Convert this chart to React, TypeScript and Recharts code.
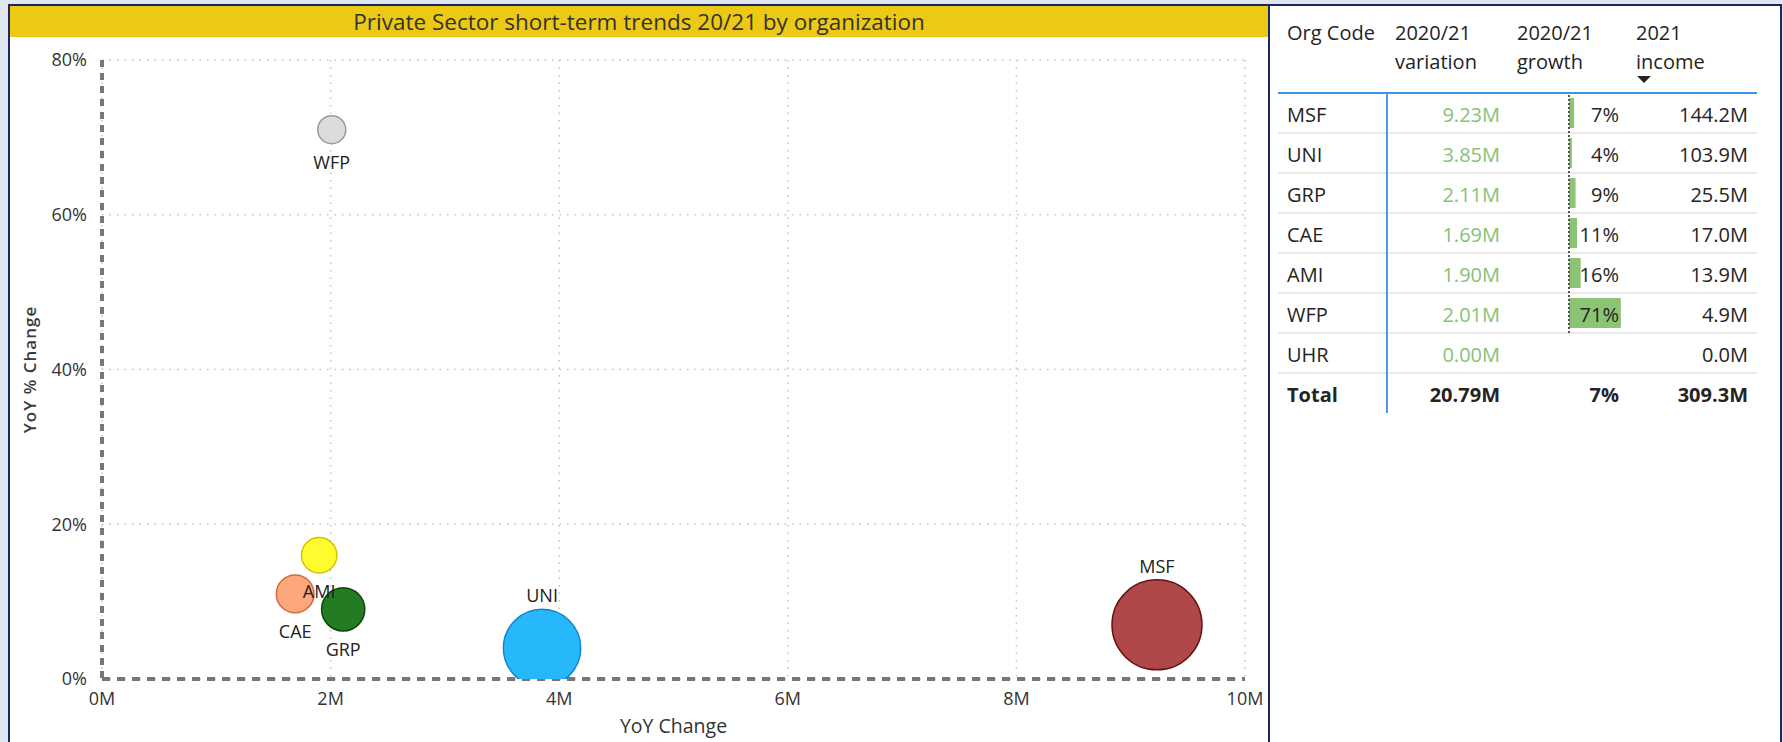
import React from "react";
import {
  ScatterChart,
  Scatter,
  XAxis,
  YAxis,
  ZAxis,
  CartesianGrid,
  Label,
  BarChart,
  Bar,
} from "recharts";

const orgCodes = ["MSF", "UNI", "GRP", "CAE", "AMI", "WFP", "UHR"];
const variationM = [9.23, 3.85, 2.11, 1.69, 1.9, 2.01, 0.0];
const growthPct: (number | null)[] = [7, 4, 9, 11, 16, 71, null];
const income2021 = [144.2, 103.9, 25.5, 17.0, 13.9, 4.9, 0.0];

const totalVariation = 20.79;
const totalGrowth = 7;
const totalIncome = 309.3;

const xTicks = [0, 2, 4, 6, 8, 10];
const yTicks = [0, 20, 40, 60, 80];

const FONT = "'Open Sans', 'Noto Sans', sans-serif";
const NAVY = "#1c2660";

const bubbleColors: Record<string, { fill: string; stroke: string }> = {
  MSF: { fill: "#b04749", stroke: "#6a1313" },
  UNI: { fill: "#27b8fc", stroke: "#1584cc" },
  GRP: { fill: "#237b24", stroke: "#0c470c" },
  CAE: { fill: "#fca77c", stroke: "#d26b3c" },
  AMI: { fill: "#fffb2e", stroke: "#cfc400" },
  WFP: { fill: "#dcdcdc", stroke: "#9a9a9a" },
};
const labelsAbove = ["UNI", "MSF"];

const rows = orgCodes.map((code, i) => ({
  code,
  x: variationM[i],
  y: growthPct[i],
  z: income2021[i],
}));
const bubbles = rows.filter((r) => r.z > 0);
const growthRows = rows.filter((r) => r.y !== null);

const minR = 14;
const maxR = 45;
const zDomain = [
  Math.min(...bubbles.map((b) => b.z)),
  Math.max(...bubbles.map((b) => b.z)),
];

const radiusOf = (p: any) =>
  p.size ? Math.sqrt(p.size / Math.PI) : (p.width || 0) / 2;

const BubbleShape = (p: any) => {
  const c = bubbleColors[p.payload.code];
  return (
    <circle
      cx={p.cx}
      cy={p.cy}
      r={radiusOf(p)}
      fill={c.fill}
      stroke={c.stroke}
      strokeWidth={1.5}
    />
  );
};

const BubbleLabel = (p: any) => {
  const r = radiusOf(p);
  const above = labelsAbove.includes(p.payload.code);
  const y = above ? p.cy - r - 14 : p.cy + r + 18;
  return (
    <text
      x={p.cx}
      y={y}
      textAnchor="middle"
      dominantBaseline="central"
      fontSize={18}
      fontFamily={FONT}
      fill="#222"
    >
      {p.payload.code}
    </text>
  );
};

const ROW_TOP = 93;
const ROW_H = 40;
const cellText: React.CSSProperties = {
  position: "absolute",
  fontFamily: FONT,
  fontSize: 20,
  lineHeight: "40px",
  height: 40,
  whiteSpace: "nowrap",
  color: "#252423",
  zIndex: 2,
};

export default function App() {
  const abs = (s: React.CSSProperties): React.CSSProperties => ({
    position: "absolute",
    ...s,
  });
  return (
    <div
      style={{
        position: "fixed",
        left: 0,
        top: 0,
        width: 1783,
        height: 742,
        overflow: "hidden",
        background: "#dfe6ef",
      }}
    >
      {/* chart panel */}
      <div
        style={abs({
          left: 8,
          top: 4,
          width: 1262,
          height: 760,
          background: "#fff",
          borderLeft: `2px solid ${NAVY}`,
          borderTop: `2px solid ${NAVY}`,
          borderRight: `2px solid ${NAVY}`,
          boxSizing: "border-box",
        })}
      />
      <div
        style={abs({
          left: 10,
          top: 6,
          width: 1258,
          height: 31,
          background: "#ebc915",
          fontFamily: FONT,
          fontSize: 22.5,
          color: "#333",
          textAlign: "center",
          lineHeight: "31px",
        })}
      >
        Private Sector short-term trends 20/21 by organization
      </div>

      {/* table panel */}
      <div
        style={abs({
          left: 1268,
          top: 4,
          width: 514,
          height: 760,
          background: "#fff",
          borderTop: `2px solid ${NAVY}`,
          borderRight: `2px solid ${NAVY}`,
          borderLeft: `2px solid ${NAVY}`,
          boxSizing: "border-box",
        })}
      />

      <div style={abs({ left: 0, top: 0 })}>
        <ScatterChart
          width={1270}
          height={742}
          margin={{ top: 60, right: 25, bottom: 23, left: 42 }}
        >
          <CartesianGrid
            stroke="#c4c4c4"
            strokeWidth={1.5}
            strokeDasharray="1.5 6"
          />
          <XAxis
            type="number"
            dataKey="x"
            domain={[0, 10]}
            ticks={xTicks}
            tickFormatter={(v) => `${v}M`}
            height={40}
            tickLine={false}
            tickSize={6}
            tickMargin={7}
            axisLine={{ stroke: "#777", strokeWidth: 4, strokeDasharray: "8 7" }}
            tick={{ fontSize: 18, fill: "#333", fontFamily: FONT }}
            allowDataOverflow
          >
            <Label
              value="YoY Change"
              position="bottom"
              offset={0}
              style={{
                fontSize: 19.5,
                fontWeight: 500,
                fill: "#333",
                fontFamily: FONT,
              }}
            />
          </XAxis>
          <YAxis
            type="number"
            dataKey="y"
            domain={[0, 80]}
            ticks={yTicks}
            tickFormatter={(v) => `${v}%`}
            width={60}
            tickLine={false}
            tickSize={6}
            tickMargin={9}
            axisLine={{ stroke: "#777", strokeWidth: 4, strokeDasharray: "7 6" }}
            tick={{ fontSize: 18, fill: "#333", fontFamily: FONT }}
            allowDataOverflow
          >
            <Label
              value="YoY % Change"
              angle={-90}
              position="center"
              dx={-42}
              style={{
                fontSize: 17,
                fontWeight: 600,
                fill: "#3a3a3a",
                fontFamily: FONT,
                letterSpacing: 1,
                textAnchor: "middle",
              }}
            />
          </YAxis>
          <ZAxis
            type="number"
            dataKey="z"
            domain={zDomain}
            range={[Math.PI * minR * minR, Math.PI * maxR * maxR]}
          />
          <Scatter
            data={bubbles}
            shape={BubbleShape}
            isAnimationActive={false}
          />
          <Scatter
            data={bubbles}
            shape={BubbleLabel}
            isAnimationActive={false}
          />
        </ScatterChart>
      </div>

      {/* table header */}
      <div style={{ ...cellText, left: 1287, top: 13 }}>Org Code</div>
      <div style={{ ...cellText, left: 1395, top: 13 }}>2020/21</div>
      <div style={{ ...cellText, left: 1395, top: 42 }}>variation</div>
      <div style={{ ...cellText, left: 1517, top: 13 }}>2020/21</div>
      <div style={{ ...cellText, left: 1517, top: 42 }}>growth</div>
      <div style={{ ...cellText, left: 1636, top: 13 }}>2021</div>
      <div style={{ ...cellText, left: 1636, top: 42 }}>income</div>
      <div
        style={abs({
          left: 1637,
          top: 76,
          width: 0,
          height: 0,
          borderLeft: "7px solid transparent",
          borderRight: "7px solid transparent",
          borderTop: "7px solid #252423",
        })}
      />
      <div
        style={abs({
          left: 1278,
          top: ROW_TOP - 1,
          width: 479,
          height: 2,
          background: "#3d93e8",
        })}
      />

      {/* row separators */}
      {rows.map((r, i) => (
        <div
          key={"sep" + r.code}
          style={abs({
            left: 1278,
            top: ROW_TOP + ROW_H * (i + 1) - 1,
            width: 479,
            height: 2,
            background: "#e9e9e9",
          })}
        />
      ))}
      <div
        style={abs({
          left: 1386,
          top: ROW_TOP,
          width: 2,
          height: ROW_H * 8,
          background: "#4a9be8",
        })}
      />

      {/* growth data bars */}
      <div style={abs({ left: 1569, top: ROW_TOP, zIndex: 1 })}>
        <BarChart
          width={73}
          height={ROW_H * growthRows.length}
          data={growthRows}
          layout="vertical"
          margin={{ top: 0, right: 0, bottom: 0, left: 0 }}
          barCategoryGap={5}
        >
          <XAxis type="number" domain={[0, 100]} hide />
          <YAxis type="category" dataKey="code" hide />
          <Bar dataKey="y" fill="#8bc474" isAnimationActive={false} />
        </BarChart>
      </div>
      <div
        style={abs({
          left: 1568,
          top: ROW_TOP + 2,
          height: ROW_H * growthRows.length - 2,
          borderLeft: "2px dotted #555",
          zIndex: 2,
        })}
      />

      {/* table body */}
      {rows.map((r, i) => {
        const top = ROW_TOP + 2 + ROW_H * i;
        return (
          <React.Fragment key={r.code}>
            <div style={{ ...cellText, left: 1287, top }}>{r.code}</div>
            <div
              style={{
                ...cellText,
                right: 1783 - 1500,
                top,
                color: "#86c276",
              }}
            >
              {r.x.toFixed(2)}M
            </div>
            {r.y !== null && (
              <div style={{ ...cellText, right: 1783 - 1619, top }}>
                {r.y}%
              </div>
            )}
            <div style={{ ...cellText, right: 1783 - 1748, top }}>
              {r.z.toFixed(1)}M
            </div>
          </React.Fragment>
        );
      })}
      {(() => {
        const top = ROW_TOP + 2 + ROW_H * rows.length;
        const bold = { ...cellText, top, fontWeight: 700 };
        return (
          <>
            <div style={{ ...bold, left: 1287 }}>Total</div>
            <div style={{ ...bold, right: 1783 - 1500 }}>
              {totalVariation.toFixed(2)}M
            </div>
            <div style={{ ...bold, right: 1783 - 1619 }}>{totalGrowth}%</div>
            <div style={{ ...bold, right: 1783 - 1748 }}>
              {totalIncome.toFixed(1)}M
            </div>
          </>
        );
      })()}
    </div>
  );
}
